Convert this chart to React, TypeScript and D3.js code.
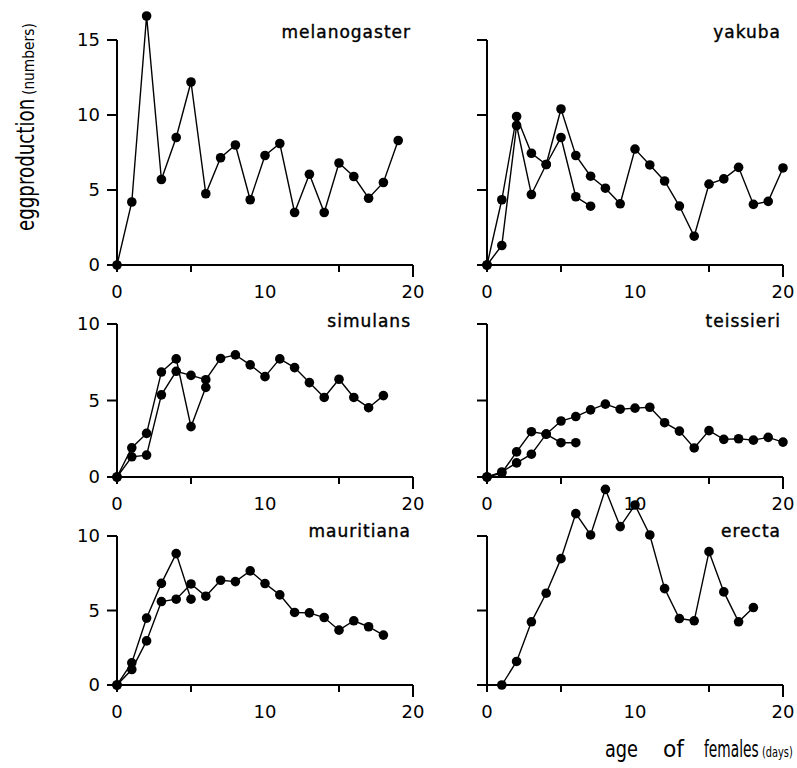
import * as d3 from "d3";

// egg production per day of female age
const melanogaster = [0, 4.2, 16.6, 5.7, 8.5, 12.2, 4.75, 7.15, 8.0, 4.35, 7.3, 8.1, 3.5, 6.05, 3.5, 6.8, 5.9, 4.45, 5.5, 8.3];
const yakubaLong = [0, 4.35, 9.9, 7.45, 6.7, 10.4, 7.3, 5.92, 5.12, 4.08, 7.73, 6.67, 5.6, 3.93, 1.92, 5.39, 5.74, 6.51, 4.04, 4.24, 6.47];
const yakubaShort = [0, 1.3, 9.3, 4.7, 6.7, 8.5, 4.55, 3.92];
const simulansLong = [0, 1.32, 1.43, 5.37, 6.91, 6.64, 6.36, 7.75, 7.98, 7.33, 6.56, 7.72, 7.15, 6.17, 5.2, 6.39, 5.2, 4.53, 5.32];
const simulansShort = [0, 1.91, 2.85, 6.86, 7.72, 3.29, 5.86];
const teissieriLong = [0, 0.33, 0.92, 1.49, 2.8, 3.66, 3.95, 4.39, 4.76, 4.43, 4.5, 4.56, 3.55, 3.0, 1.9, 3.03, 2.46, 2.5, 2.41, 2.59, 2.28];
const teissieriShort = [0, 0.26, 1.64, 2.96, 2.8, 2.24, 2.24];
const mauritianaLong = [0, 1.04, 2.96, 5.6, 5.76, 6.78, 5.96, 7.03, 6.94, 7.66, 6.81, 6.05, 4.87, 4.84, 4.53, 3.68, 4.31, 3.91, 3.35];
const mauritianaShort = [0, 1.49, 4.49, 6.82, 8.82, 5.76];
// erecta starts at day 1
const erecta = [0, 1.58, 4.24, 6.16, 8.48, 11.5, 10.07, 13.13, 10.63, 12.08, 10.07, 6.47, 4.46, 4.31, 8.95, 6.25, 4.24, 5.2];

const xTicks = [0, 5, 15, 20];
const xLabels = [0, 10, 20];
const yTicksTall = [0, 5, 10, 15];
const yTicksShort = [0, 5, 10];

const panels = [
  { name: "melanogaster", series: [melanogaster], firstDay: 0, yMax: 15, yTicks: yTicksTall, left: 117, right: 413, bottom: 265, top: 40, yLabels: true, nameY: 38 },
  { name: "yakuba", series: [yakubaLong, yakubaShort], firstDay: 0, yMax: 15, yTicks: yTicksTall, left: 487, right: 783, bottom: 265, top: 40, yLabels: false, nameY: 38 },
  { name: "simulans", series: [simulansLong, simulansShort], firstDay: 0, yMax: 10, yTicks: yTicksShort, left: 117, right: 413, bottom: 477, top: 324, yLabels: true, nameY: 327 },
  { name: "teissieri", series: [teissieriLong, teissieriShort], firstDay: 0, yMax: 10, yTicks: yTicksShort, left: 487, right: 783, bottom: 477, top: 324, yLabels: false, nameY: 327 },
  { name: "mauritiana", series: [mauritianaLong, mauritianaShort], firstDay: 0, yMax: 10, yTicks: yTicksShort, left: 117, right: 413, bottom: 685, top: 536, yLabels: true, nameY: 537 },
  { name: "erecta", series: [erecta], firstDay: 1, yMax: 10, yTicks: yTicksShort, left: 487, right: 783, bottom: 685, top: 536, yLabels: false, nameY: 537 },
];

const font = "'DejaVu Sans', sans-serif";

// narrow lettering of the axis titles: squeeze DejaVu horizontally
const Narrow = ({ x, y, size, sx, children }) => (
  <text transform={`translate(${x},${y}) scale(${sx},1)`} fontSize={size} fontFamily={font}>{children}</text>
);

const Panel = ({ p }) => {
  const x = d3.scaleLinear().domain([0, 20]).range([p.left, p.right]);
  const y = d3.scaleLinear().domain([0, p.yMax]).range([p.bottom, p.top]);
  const line = d3.line<number>()
    .x((d, i) => x(i + p.firstDay))
    .y((d) => y(d));

  return (
    <g>
      {/* axes */}
      <line x1={x(0) - 6} x2={x(20)} y1={y(0)} y2={y(0)} stroke="#000" strokeWidth={2} />
      <line x1={x(0)} x2={x(0)} y1={y(0)} y2={y(p.yMax)} stroke="#000" strokeWidth={2} />
      {p.yTicks.map((t) => (
        <line key={"yt" + t} x1={x(0) - 10} x2={x(0)} y1={y(t)} y2={y(t)} stroke="#000" strokeWidth={2} />
      ))}
      {xTicks.map((t) => (
        <line key={"xt" + t} x1={x(t)} x2={x(t)} y1={y(0)} y2={y(0) + (t === 20 ? 12 : 7)} stroke="#000" strokeWidth={2} />
      ))}
      {p.yLabels && p.yTicks.map((t) => (
        <text key={"yl" + t} x={x(0) - 17} y={y(t)} dy="0.36em" textAnchor="end" fontSize={18} fontFamily={font}>{t}</text>
      ))}
      {xLabels.map((t) => (
        <text key={"xl" + t} x={x(t)} y={y(0) + 33} textAnchor="middle" fontSize={18} fontFamily={font}>{t}</text>
      ))}
      <text x={x(20) - 2} y={p.nameY} textAnchor="end" fontSize={17} letterSpacing={1} fontFamily={font}
        stroke="#000" strokeWidth={0.4}>{p.name}</text>

      {/* series */}
      {p.series.map((s, k) => (
        <g key={"s" + k}>
          <path d={line(s)} fill="none" stroke="#000" strokeWidth={1.4} />
          {s.map((v, i) => (
            <circle key={i} cx={x(i + p.firstDay)} cy={y(v)} r={4.8} fill="#000" />
          ))}
        </g>
      ))}
    </g>
  );
};

export default function App() {
  return (
    <svg width={797} height={768} style={{ position: "absolute", left: 0, top: 0, background: "#fff" }}>
      <rect width={797} height={768} fill="#fff" />
      {panels.map((p) => <Panel key={p.name} p={p} />)}

      {/* y axis title */}
      <g transform="translate(34,231) rotate(-90)">
        <Narrow x={0} y={0} size={24} sx={0.76}>eggproduction</Narrow>
        <Narrow x={136} y={0} size={15} sx={0.92}>(numbers)</Narrow>
      </g>

      {/* x axis title */}
      <Narrow x={605} y={757} size={23} sx={0.77}>age</Narrow>
      <Narrow x={663} y={757} size={23} sx={0.95}>of</Narrow>
      <Narrow x={704} y={757} size={23} sx={0.6}>females</Narrow>
      <Narrow x={762} y={757} size={14} sx={0.7}>(days)</Narrow>
    </svg>
  );
}
